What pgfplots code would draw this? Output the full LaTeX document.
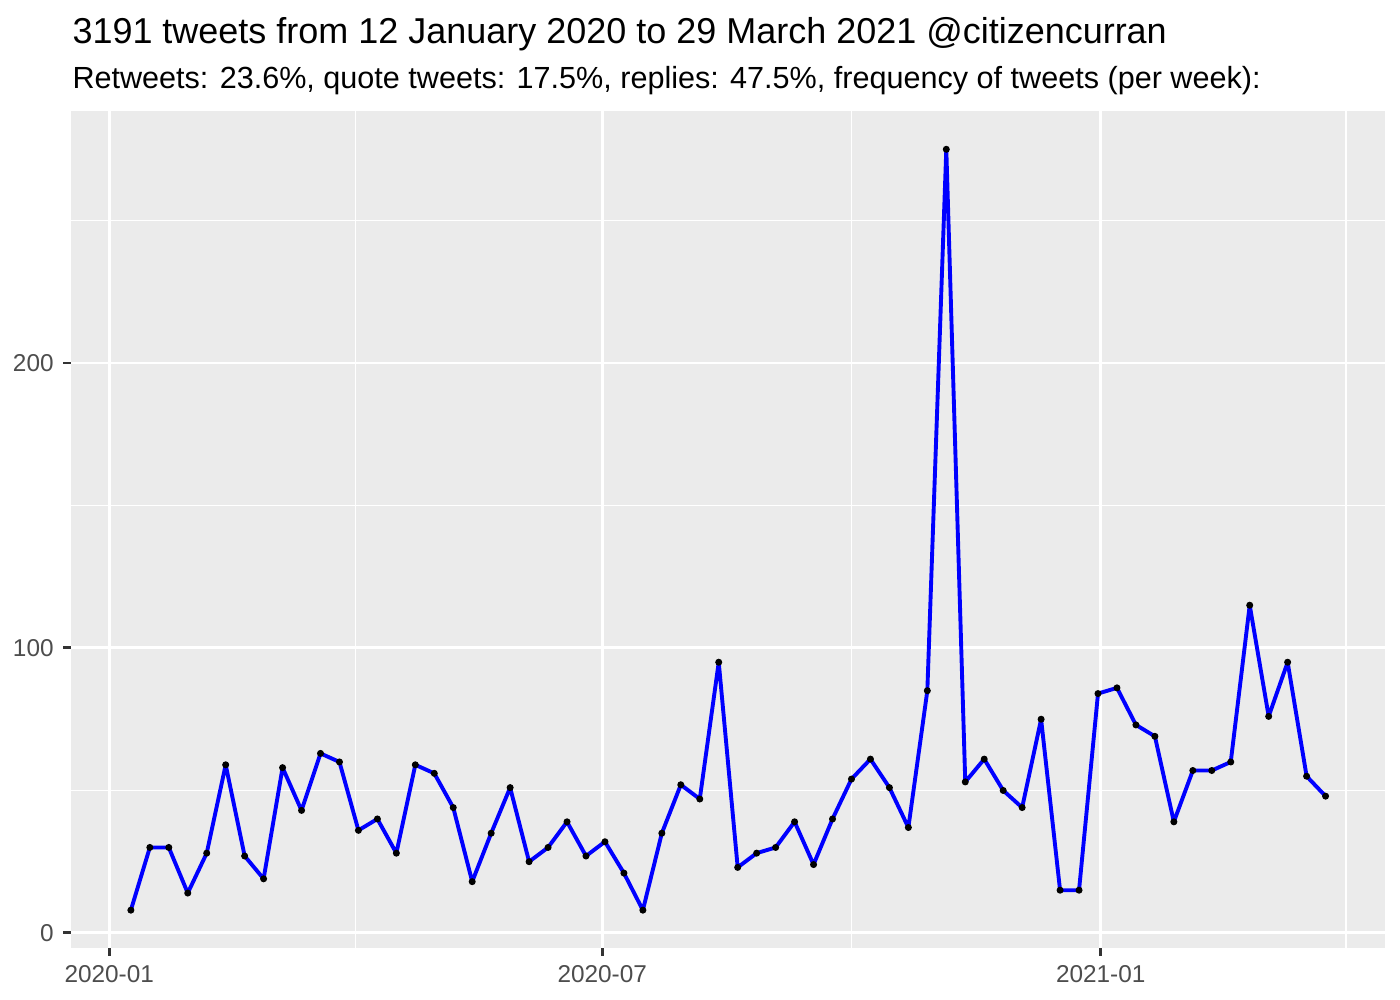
\documentclass[border=0pt]{standalone}
\usepackage{fontspec}
\setmainfont{Liberation Sans}
\usepackage{pgfplots}
\pgfplotsset{compat=1.18}
\definecolor{panelgray}{HTML}{EBEBEB}
\definecolor{tickgray}{HTML}{333333}
\definecolor{labelgray}{HTML}{4D4D4D}
\begin{document}
\begin{tikzpicture}
\useasboundingbox (0,0) rectangle (504bp,360bp);
\node[anchor=base west, inner sep=0pt, font=\fontsize{13.0}{15}\selectfont] at (25.9bp,344.2bp) {3191 tweets from 12 January 2020 to 29 March 2021 @citizencurran};
\node[anchor=base west, inner sep=0pt, font=\fontsize{11.05}{13}\selectfont] at (25.9bp,328.3bp) {Retweets: 23.6\%, quote tweets: 17.5\%, replies: 47.5\%, frequency of tweets (per week):};
\begin{axis}[
 at={(25.56bp,18.65bp)}, anchor=south west,
 scale only axis, width=473.0bp, height=301.3bp,
 xmin=-14.1, xmax=470.9, ymin=-5.35, ymax=288.35,
 axis background/.style={fill=panelgray},
 axis line style={draw=none},
 xtick={0,182,366}, xticklabels={2020-01,2020-07,2021-01},
 ytick={0,100,200},
 minor xtick={91,274,456.5}, minor ytick={50,150,250},
 grid=both,
 major grid style={white, line width=1.07bp},
 minor grid style={white, line width=0.53bp},
 tick align=outside, xtick pos=bottom, ytick pos=left,
 major tick length=2.74bp, minor tick length=0pt,
 tick style={tickgray, line width=1.07bp},
 ticklabel style={font=\fontsize{8.8}{10}\selectfont, text=labelgray},
 /pgf/number format/assume math mode=true,
 clip=false,
]
\addplot[only marks, mark=*, mark size=1.05bp, mark options={black, fill=black}] table {
x y
8 8
15 30
22 30
29 14
36 28
43 59
50 27
57 19
64 58
71 43
78 63
85 60
92 36
99 40
106 28
113 59
120 56
127 44
134 18
141 35
148 51
155 25
162 30
169 39
176 27
183 32
190 21
197 8
204 35
211 52
218 47
225 95
232 23
239 28
246 30
253 39
260 24
267 40
274 54
281 61
288 51
295 37
302 85
309 275
316 53
323 61
330 50
337 44
344 75
351 15
358 15
365 84
372 86
379 73
386 69
393 39
400 57
407 57
414 60
421 115
428 76
435 95
442 55
449 48
};
\addplot[blue, line width=1.4bp, no marks, line join=round] table {
x y
8 8
15 30
22 30
29 14
36 28
43 59
50 27
57 19
64 58
71 43
78 63
85 60
92 36
99 40
106 28
113 59
120 56
127 44
134 18
141 35
148 51
155 25
162 30
169 39
176 27
183 32
190 21
197 8
204 35
211 52
218 47
225 95
232 23
239 28
246 30
253 39
260 24
267 40
274 54
281 61
288 51
295 37
302 85
309 275
316 53
323 61
330 50
337 44
344 75
351 15
358 15
365 84
372 86
379 73
386 69
393 39
400 57
407 57
414 60
421 115
428 76
435 95
442 55
449 48
};
\end{axis}
\end{tikzpicture}
\end{document}
